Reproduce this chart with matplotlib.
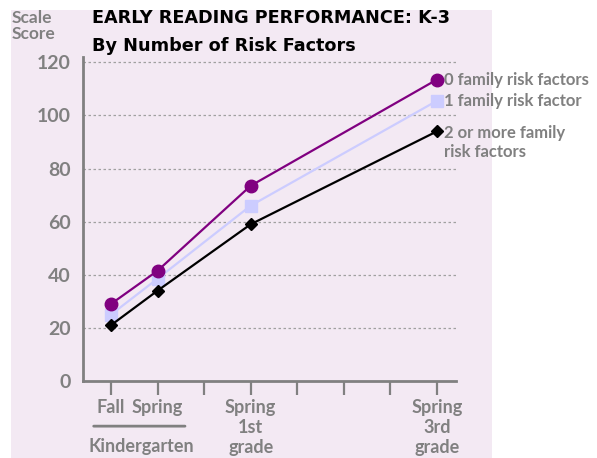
import matplotlib.pyplot as plt
from matplotlib.patches import Rectangle

# time points on a 0..7 scale (Fall K, Spring K, Spring 1st, Spring 3rd)
x_pos = [0, 1, 3, 7]
zero_risk = [29, 41.5, 73.5, 113.5]
one_risk = [25, 38.5, 66, 105.5]
two_plus_risk = [21, 34, 59, 94]
series_labels = ["0 family risk factors", "1 family risk factor", "2 or more family\nrisk factors"]
tick_labels = {0: "Fall", 1: "Spring", 3: "Spring\n1st\ngrade", 7: "Spring\n3rd\ngrade"}
y_ticks = [0, 20, 40, 60, 80, 100, 120]

GRAY = "#808080"
BG = "#f3e9f3"
LBL_FONT = ["Lato", "DejaVu Sans"]

fig = plt.figure(figsize=(5.97, 4.58), dpi=100)
fig.patch.set_facecolor("white")
# pink panel behind the chart
fig.patches.append(Rectangle((11 / 597, 0), (492 - 11) / 597, 1 - 10 / 458,
                             transform=fig.transFigure, facecolor=BG,
                             edgecolor="none", zorder=-10))

ax = fig.add_axes([83 / 597, 1 - 381 / 458, (456 - 83) / 597, (381 - 57) / 458])
ax.set_facecolor("none")
ax.set_xlim(-0.6, 7.41)
ax.set_ylim(0, 122)

for y in y_ticks[1:]:
    ax.axhline(y, color="#a0a0a0", linestyle=(0, (2, 2)), linewidth=0.9, zorder=1)

ax.plot(x_pos, zero_risk, color="#800080", marker="o", markersize=9, linewidth=1.6, zorder=5)
ax.plot(x_pos, one_risk, color="#ccccff", marker="s", markersize=9, linewidth=1.6, zorder=4)
ax.plot(x_pos, two_plus_risk, color="black", marker="D", markersize=6.5, linewidth=1.6, zorder=6)

for side in ["top", "right"]:
    ax.spines[side].set_visible(False)
for side in ["left", "bottom"]:
    ax.spines[side].set_color(GRAY)
    ax.spines[side].set_linewidth(2)

ax.set_yticks(y_ticks)
ax.set_yticklabels([str(v) for v in y_ticks], fontsize=14, fontweight="bold",
                   color=GRAY, family=LBL_FONT)
ax.tick_params(axis="y", length=0, pad=9)

ax.set_xticks(range(8))
ax.set_xticklabels([tick_labels.get(i, "") for i in range(8)], fontsize=13,
                   fontweight="bold", color=GRAY, family=LBL_FONT, linespacing=1.2)
ax.tick_params(axis="x", length=10, width=1.6, color=GRAY, pad=3)

# series labels next to the last points
ends = [zero_risk[-1], one_risk[-1], two_plus_risk[-1]]
offsets = [0, 0, -8]
for lbl, yv, off in zip(series_labels, ends, offsets):
    ax.annotate(lbl, xy=(x_pos[-1], yv), xytext=(5, off), textcoords="offset points",
                fontsize=12, fontweight="bold", color=GRAY, family=LBL_FONT,
                va="center", ha="left", annotation_clip=False, linespacing=1.25)

# kindergarten bracket
ax.annotate("", xy=(-0.43, -17), xytext=(1.65, -17), xycoords="data",
            arrowprops=dict(arrowstyle="-", color=GRAY, linewidth=2),
            annotation_clip=False)
ax.text(0.65, -24.5, "Kindergarten", ha="center", va="center", fontsize=13,
        fontweight="bold", color=GRAY, family=LBL_FONT, clip_on=False)

fig.text(12 / 597, 1 - 10 / 458, "Scale\nScore", ha="left", va="top", fontsize=12.5,
         color=GRAY, family=LBL_FONT, fontweight="bold", linespacing=1.0)
fig.text(92 / 597, 1 - 9 / 458, "EARLY READING PERFORMANCE: K-3\nBy Number of Risk Factors",
         ha="left", va="top", fontsize=12.7, fontweight="bold", color="black",
         family=["DejaVu Sans"], linespacing=1.7)

fig.savefig("out.png", dpi=100)
